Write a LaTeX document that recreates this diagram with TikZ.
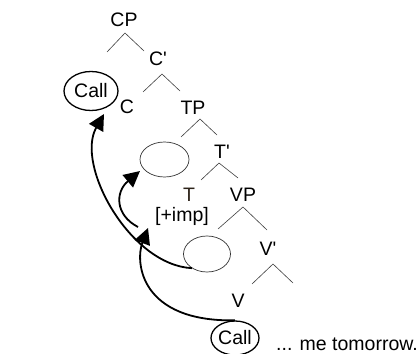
\documentclass[tikz,border=0pt]{standalone}
\usepackage{fontspec}
\setmainfont{Liberation Sans}[Ligatures=TeXOff]
\usetikzlibrary{shapes.geometric,arrows.meta}
\definecolor{tcol}{RGB}{45,35,25}
\begin{document}
\begin{tikzpicture}[x=1pt,y=-1pt,
  lab/.style={font=\fontsize{19.5}{21}\selectfont, inner sep=0pt, anchor=base},
  branch/.style={line width=0.6pt, draw=black!75},
  callov/.style={ellipse, draw, line width=1.3pt, inner sep=0pt, font=\fontsize{19.5}{21}\selectfont},
  gapov/.style={ellipse, draw=black!80, line width=0.7pt, inner sep=0pt},
  mv/.style={line width=1.8pt, -{Triangle[length=16pt,width=16pt]}}
]
\useasboundingbox (0,0) rectangle (417,353);
% tree labels
\node[lab] (CP) at (124,26.5) {CP};
\node[lab] (Cbar) at (158,65) {C'};
\node[lab] (C) at (127,113) {C};
\node[lab] (TP) at (193,114) {TP};
\node[lab] (Tbar) at (222,158) {T'};
\node[lab,text=tcol] (T) at (189,201) {T};
\node[lab] (VP) at (243,201) {VP};
\node[lab] (imp) at (182,221) {[+imp]};
\node[lab] (Vbar) at (268,255) {V'};
\node[lab] (V) at (238,307) {V};
\node[lab,anchor=base west] (rest) at (276,350) {... me tomorrow.};
% ovals
\node[callov, minimum width=54pt, minimum height=39pt] (callT) at (91,91) {Call};
\node[callov, minimum width=48pt, minimum height=34pt] (callB) at (235,338) {Call};
\node[gapov, minimum width=49pt, minimum height=35pt] (e1) at (164.5,159.5) {};
\node[gapov, minimum width=47pt, minimum height=36pt] (e2) at (207,254) {};
% branches
\draw[branch] (107,52) -- (125,33) -- (144,51);
\draw[branch] (143,92) -- (162,74) -- (180,91);
\draw[branch] (181,137) -- (200,119) -- (217,135);
\draw[branch] (201,180) -- (219,163) -- (238,178);
\draw[branch] (218,229) -- (243,207) -- (267,230);
\draw[branch] (252,284) -- (273,264) -- (293,283);
% movement arrows
\coordinate (tipA) at (148,228);
\coordinate (tipB) at (104,114);
\coordinate (srcC) at (138,227);
\coordinate (tipC) at (140,171);
\draw[mv] (e2.223) .. controls (130,265) and (75,165) .. (tipB);
\draw[mv] (callB.north) .. controls (140,322) and (135,262) .. (tipA);
\draw[mv] (srcC) .. controls (115,215) and (115,192) .. (tipC);
\end{tikzpicture}
\end{document}
